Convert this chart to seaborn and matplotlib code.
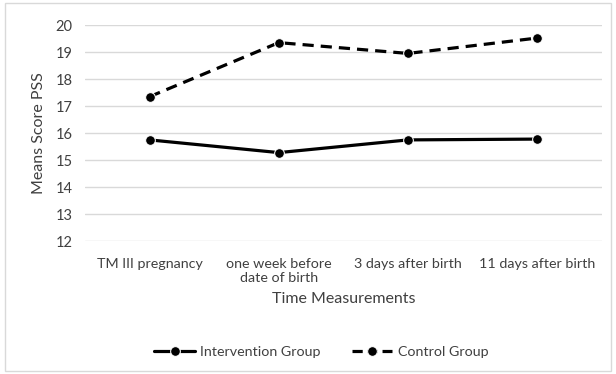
import matplotlib
matplotlib.use("Agg")
import matplotlib.pyplot as plt
from matplotlib.patches import Rectangle
import seaborn as sns
import pandas as pd

categories = ["TM III pregnancy", "one week before\ndate of birth",
              "3 days after birth", "11 days after birth"]
intervention = [15.75, 15.28, 15.75, 15.78]
control = [17.35, 19.35, 18.95, 19.52]
groups = ["Intervention Group", "Control Group"]
yticks = [12, 13, 14, 15, 16, 17, 18, 19, 20]

df = pd.DataFrame({
    "time": list(range(len(categories))) * 2,
    "score": intervention + control,
    "group": [groups[0]] * len(categories) + [groups[1]] * len(categories),
})

sns.set_theme(style="white")
plt.rcParams["font.family"] = ["Lato", "DejaVu Sans"]
text_color = "#404040"

fig = plt.figure(figsize=(6.16, 3.74), dpi=100)
ax = fig.add_axes([0.138, 0.355, 0.839, 0.578])

sns.lineplot(data=df, x="time", y="score", hue="group", style="group",
             palette={groups[0]: "black", groups[1]: "black"},
             dashes={groups[0]: "", groups[1]: (3.5, 2.2)},
             markers={groups[0]: "o", groups[1]: "o"},
             markersize=7, linewidth=2.3, ax=ax, legend=True)

ax.set_xlim(-0.5, 3.5)
ax.set_ylim(12, 20)
ax.set_yticks(yticks)
ax.set_xticks(range(len(categories)))
ax.set_xticklabels(categories, linespacing=1.2)
ax.yaxis.grid(True, color="#d9d9d9", linewidth=1)
ax.set_axisbelow(True)
for s in ax.spines.values():
    s.set_visible(False)
ax.tick_params(axis="y", length=0, labelsize=10.5, colors=text_color, pad=9)
ax.tick_params(axis="x", length=0, labelsize=10.3, colors=text_color, pad=12)
ax.set_xlabel("Time Measurements", fontsize=11.5, color=text_color, labelpad=6)
ax.set_ylabel("Means Score PSS", fontsize=11.5, color=text_color, labelpad=7)

handles, labels = ax.get_legend_handles_labels()
leg = ax.legend(handles, labels, loc="center", bbox_to_anchor=(0.522, 0.059),
                bbox_transform=fig.transFigure, ncol=2, frameon=False,
                fontsize=10.3, handlelength=2.8, handletextpad=0.4,
                columnspacing=2.2, labelcolor=text_color)
leg.get_lines()[1].set_dashes((3.2, 1.5))

fig.patches.append(Rectangle((0.008, 0.008), 0.984, 0.984, transform=fig.transFigure,
                             fill=False, edgecolor="#d9d9d9", linewidth=1))

fig.savefig("out.png", dpi=100)
